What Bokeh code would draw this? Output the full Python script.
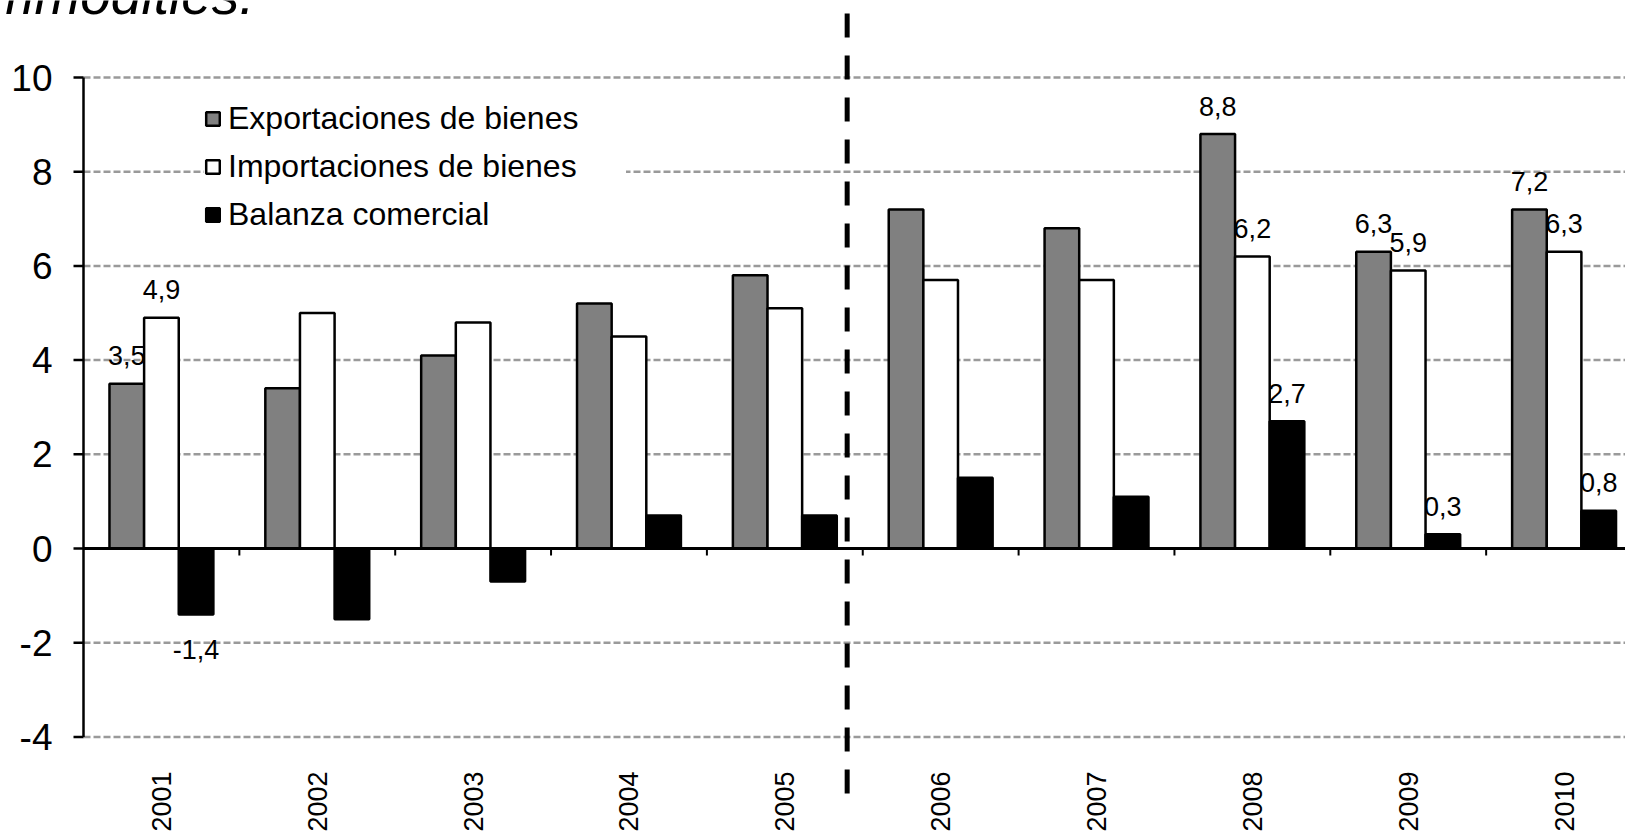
import math

from bokeh.core.properties import value
from bokeh.embed import file_html
from bokeh.models import ColumnDataSource, Legend, LegendItem, Range1d
from bokeh.plotting import figure
from bokeh.resources import INLINE

# ---- data -------------------------------------------------------------
years = ["2001", "2002", "2003", "2004", "2005", "2006", "2007", "2008", "2009", "2010"]
exportaciones = [3.5, 3.4, 4.1, 5.2, 5.8, 7.2, 6.8, 8.8, 6.3, 7.2]
importaciones = [4.9, 5.0, 4.8, 4.5, 5.1, 5.7, 5.7, 6.2, 5.9, 6.3]
balanza = [-1.4, -1.5, -0.7, 0.7, 0.7, 1.5, 1.1, 2.7, 0.3, 0.8]
series_names = ["Exportaciones de bienes", "Importaciones de bienes", "Balanza comercial"]
y_ticks = [-4, -2, 0, 2, 4, 6, 8, 10]
labeled_years = ["2001", "2008", "2009", "2010"]
title_text = "commodities:"

# ---- geometry (pixels) ------------------------------------------------
W, H = 1625, 833
AXIS_PX = 83             # screen column of the y axis
ZERO_PX = 548            # screen row of y = 0
PX_PER_UNIT = 47.1       # vertical scale
CAT_PX = 155.85          # width of one year slot
BAR_W = 1 / 4.5          # three bars + 150 % gap
FONT = "Liberation Sans"


def py(v):
    """Pixel distance -> y data units."""
    return v / PX_PER_UNIT


def pxx(v):
    """Pixel distance -> x data units."""
    return v / CAT_PX


# the plot frame covers the whole canvas; axes are drawn by hand
p = figure(
    width=W, height=H,
    x_range=Range1d(-pxx(AXIS_PX), pxx(W - AXIS_PX)),
    y_range=Range1d(-py(H - ZERO_PX), py(ZERO_PX)),
    output_backend="svg", toolbar_location=None,
    x_axis_location=None, y_axis_location=None,
    min_border=0,
)
p.grid.visible = False
p.outline_line_color = None
p.background_fill_color = "white"
p.border_fill_color = "white"

n = len(years)
x_right = pxx(W - AXIS_PX)
centers = [i + 0.5 for i in range(n)]
series = [exportaciones, importaciones, balanza]
fills = ["#808080", "white", "black"]
offsets = [-BAR_W, 0.0, BAR_W]

# dashed horizontal grid
grid_ticks = [t for t in y_ticks if t != 0]
p.segment(x0=[0] * len(grid_ticks), y0=grid_ticks, x1=[x_right] * len(grid_ticks), y1=grid_ticks,
          line_color="#9a9a9a", line_width=2.5, line_dash="7 3")


def fmt(v):
    return f"{v:.1f}".replace(".", ",")


# value labels (drawn before the bars so the bars sit on top of them)
for vals, off in zip(series, offsets):
    lx, ly, lt = [], [], []
    for yr, c, v in zip(years, centers, vals):
        if yr in labeled_years:
            lx.append(c + off)
            ly.append(v + py(28) if v >= 0 else v - py(35))
            lt.append(fmt(v))
    p.text(x=lx, y=ly, text=lt, text_align="center", text_baseline="middle",
           text_font=value(FONT), text_font_size="27px", text_color="black")

# bars
bar_renderers = []
for vals, off, fill in zip(series, offsets, fills):
    src = ColumnDataSource(dict(x=[c + off for c in centers], top=vals))
    r = p.vbar(x="x", top="top", bottom=0, width=BAR_W, source=src,
               fill_color=fill, line_color="black", line_width=2.5)
    bar_renderers.append(r)

# zero line with category ticks
p.segment(x0=[0], y0=[0], x1=[x_right], y1=[0], line_color="black", line_width=3)
bounds = list(range(1, n))
p.segment(x0=bounds, y0=[0] * len(bounds), x1=bounds, y1=[-py(7)] * len(bounds),
          line_color="black", line_width=2)

# y axis: line, outward ticks, labels
p.segment(x0=[0], y0=[min(y_ticks)], x1=[0], y1=[max(y_ticks)], line_color="black", line_width=2.5)
p.segment(x0=[0] * len(y_ticks), y0=y_ticks, x1=[-pxx(10)] * len(y_ticks), y1=y_ticks,
          line_color="black", line_width=2.5)
p.text(x=[-pxx(AXIS_PX - 52)] * len(y_ticks), y=y_ticks, text=[str(t) for t in y_ticks],
       text_align="right", text_baseline="middle",
       text_font=value(FONT), text_font_size="37px", text_color="black")

# year labels, rotated
p.text(x=centers, y=[-py(771 - ZERO_PX)] * n, text=years, angle=math.pi / 2,
       text_align="right", text_baseline="middle",
       text_font=value(FONT), text_font_size="27px", text_color="black")

# dashed separator between 2005 and 2006
sep_x = years.index("2006") - 0.1
p.segment(x0=[sep_x], y0=[py(ZERO_PX - 13)], x1=[sep_x], y1=[-py(793 - ZERO_PX)],
          line_color="black", line_width=5, line_dash="24 18")

# heading running off the top edge
p.text(x=[pxx(254 - AXIS_PX)], y=[py(ZERO_PX + 6)], text=[title_text],
       text_align="right", text_baseline="alphabetic",
       text_font=value(FONT), text_font_style="italic", text_font_size="55px",
       text_color="black")

legend = Legend(
    items=[LegendItem(label=name, renderers=[r]) for name, r in zip(series_names, bar_renderers)],
    location=(204, 600),
    label_text_font=FONT, label_text_font_size="32px", label_text_color="black",
    glyph_width=17, glyph_height=17, label_standoff=7, spacing=11,
    padding=15, margin=0, label_width=398,
    border_line_color=None, background_fill_color="white", background_fill_alpha=1.0,
)
p.add_layout(legend)

open("out.html", "w").write(file_html(p, INLINE))
